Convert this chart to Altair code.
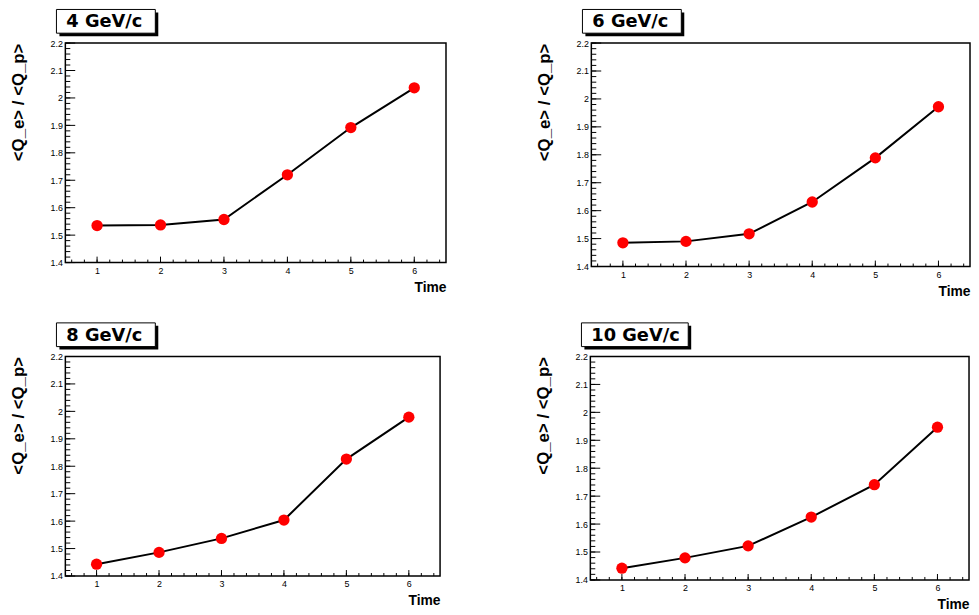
import altair as alt
import pandas as pd

# ---- data ----
times = [1, 2, 3, 4, 5, 6]
panel_labels = ["4 GeV/c", "6 GeV/c", "8 GeV/c", "10 GeV/c"]
ratio_4 = [1.535, 1.537, 1.557, 1.720, 1.892, 2.037]
ratio_6 = [1.485, 1.490, 1.517, 1.631, 1.789, 1.972]
ratio_8 = [1.443, 1.486, 1.537, 1.604, 1.826, 1.979]
ratio_10 = [1.442, 1.479, 1.522, 1.625, 1.741, 1.947]

x_major = [1, 2, 3, 4, 5, 6]
y_major = [1.4, 1.5, 1.6, 1.7, 1.8, 1.9, 2.0, 2.1, 2.2]
x_minor = [round(0.6 + 0.2 * i, 1) for i in range(30)]
y_minor = [round(1.4 + 0.02 * i, 2) for i in range(41)]

FONT = "Liberation Sans"


def panel(label, values, w, h, title_pad=23):
    df = pd.DataFrame({"t": times, "v": values})
    xs = alt.Scale(domain=[0.5, 6.5], nice=False, zero=False)
    ys = alt.Scale(domain=[1.4, 2.2], nice=False, zero=False)

    lab_x = alt.Axis(orient="bottom", values=x_major, format="d", ticks=False, tickSize=0,
                     domain=False, grid=False, labelPadding=4, labelFontSize=9,
                     labelFont=FONT, labelColor="black",
                     title="Time", titleAnchor="end", titleFontSize=14, titleFont=FONT,
                     titleFontWeight="bold", titlePadding=5, titleColor="black")
    lab_y = alt.Axis(orient="left", values=y_major, format="~g", ticks=False, tickSize=0,
                     domain=False, grid=False, labelPadding=3, labelFontSize=9,
                     labelFont=FONT, labelColor="black",
                     title="<Q_e> / <Q_p>", titleAnchor="end", titleFontSize=17, titleFont=FONT,
                     titleFontWeight="bold", titlePadding=title_pad, titleColor="black")

    # inward tick marks (ROOT style), placed through the shared scales
    def xticks(vals, size):
        return alt.Chart(pd.DataFrame({"t": vals})).mark_rule(color="black", strokeWidth=1).encode(
            x=alt.X("t:Q", scale=xs, axis=lab_x), y=alt.value(h), y2=alt.value(h - size))

    def yticks(vals, size):
        return alt.Chart(pd.DataFrame({"v": vals})).mark_rule(color="black", strokeWidth=1).encode(
            y=alt.Y("v:Q", scale=ys, axis=lab_y), x=alt.value(0), x2=alt.value(size))

    line = alt.Chart(df).mark_line(color="black", strokeWidth=2).encode(
        x=alt.X("t:Q", scale=xs, axis=lab_x),
        y=alt.Y("v:Q", scale=ys, axis=lab_y),
    )
    pts = alt.Chart(df).mark_circle(size=130, color="#ff0000", opacity=1).encode(
        x=alt.X("t:Q", scale=xs, axis=lab_x),
        y=alt.Y("v:Q", scale=ys, axis=lab_y),
    )

    lab_df = pd.DataFrame({"label": [label]})
    bx = -9
    bw = 100 + 8 * (len(label) - 7)
    by, by2 = -34, -10
    shadow = alt.Chart(lab_df).mark_rect(color="black").encode(
        x=alt.value(bx + 3), x2=alt.value(bx + bw + 3),
        y=alt.value(by + 3), y2=alt.value(by2 + 3))
    box = alt.Chart(lab_df).mark_rect(fill="white", stroke="black", strokeWidth=1).encode(
        x=alt.value(bx), x2=alt.value(bx + bw),
        y=alt.value(by), y2=alt.value(by2))
    txt = alt.Chart(lab_df).mark_text(align="left", baseline="middle", font="DejaVu Sans",
                                      fontWeight="bold", fontSize=18, color="black").encode(
        x=alt.value(bx + 10), y=alt.value((by + by2) / 2 + 1), text="label:N")

    return alt.layer(
        line,
        xticks(x_minor, 3), xticks(x_major, 6), yticks(y_minor, 5), yticks(y_major, 10),
        pts, shadow, box, txt,
    ).properties(width=w, height=h)


p1 = panel(panel_labels[0], ratio_4, 385, 222)
p2 = panel(panel_labels[1], ratio_6, 383, 226)
p3 = panel(panel_labels[2], ratio_8, 379, 222)
p4 = panel(panel_labels[3], ratio_10, 383, 226)

chart = alt.vconcat(
    alt.hconcat(p1, p2, spacing=88),
    alt.hconcat(p3, p4, spacing=93),
    spacing=22,
).properties(padding={"top": -4, "left": 0, "right": 0, "bottom": 0},
             background="white").configure_view(stroke="black", strokeWidth=1.5)

chart.save("out.html", embed_options={"renderer": "svg", "actions": False})
